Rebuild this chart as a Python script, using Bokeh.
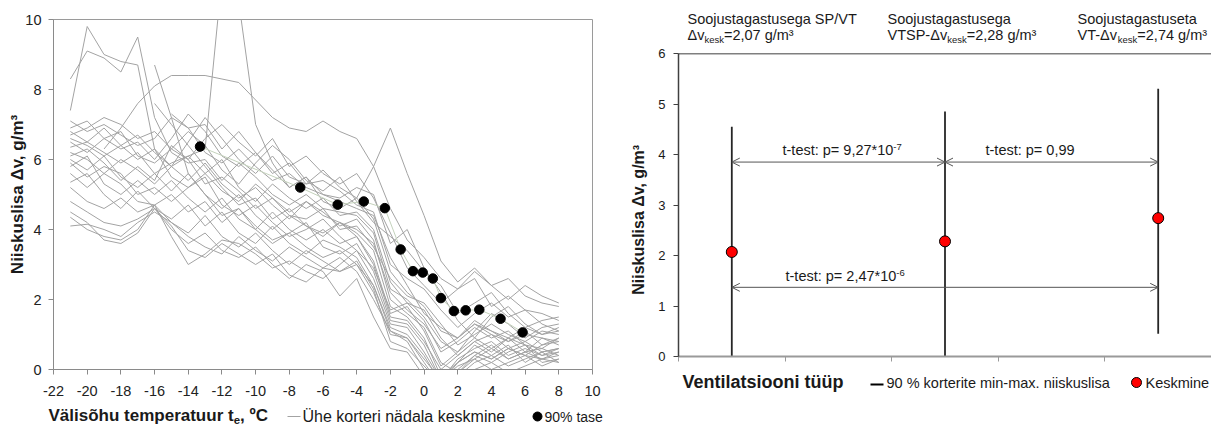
import math
import numpy as np
from bokeh.plotting import figure
from bokeh.layouts import row, column
from bokeh.models import Label, Arrow, OpenHead, Span, FixedTicker, Range1d
from bokeh.embed import file_html
from bokeh.resources import INLINE

FONT = "Liberation Sans"

# ---------------- data: left chart ----------------
temps = [-21, -20, -19, -18, -17, -16, -15, -14, -13, -12, -11, -10, -9, -8, -7,
         -6, -5, -4, -3, -2, -1, 0, 1, 2, 3, 4, 5, 6, 7, 8]

k01 = [7.4, 9.8, 9.0, 8.8, 8.7, 6.3, 5.5, 5.2, 5.6, 5.1, 4.8, 5.3, 4.9, 4.5, 4.8, 4.4, 4.2, 4.0, 3.6, 2.2, 1.7, 1.3, 0.6, 0.9, 1.4, 1.1, 0.9, 1.2, 1.0, 1.1]
k02 = [8.3, 9.1, 8.9, 8.5, 9.5, 7.2, 6.2, 5.9, 6.0, 5.4, 5.9, 5.5, 5.0, 4.7, 5.0, 4.6, 4.5, 4.4, 3.9, 2.3, 2.0, 1.5, 0.8, 0.5, 1.1, 1.6, 1.3, 0.9, 1.2, 1.3]
k03 = [None, None, 6.3, 6.9, 7.6, 8.1, 8.4, 8.4, 8.4, 8.3, 8.2, 7.7, 7.2, 6.9, 6.8, 7.1, 6.8, 6.6, 5.8, 4.6, 3.7, 3.2, 2.6, 2.3, 2.8, 2.4, 2.0, 2.4, 2.1, 1.9]
k04 = [6.6, 6.4, 6.1, 6.4, 6.7, 6.2, 5.8, 6.1, 6.3, 11.2, 10.5, 7.0, 5.9, 5.2, 5.5, 4.8, 4.6, 4.9, 4.3, 2.8, 2.2, 1.8, 1.1, 0.9, 1.3, 1.0, 0.8, 1.1, 0.7, 0.9]
k05 = [None, None, None, None, None, 8.7, 7.2, 5.6, 5.0, 4.4, 4.6, 4.0, 3.6, 3.9, 3.5, 3.2, 3.4, 3.0, 2.4, 1.1, 0.9, 0.3, -0.3, 0.2, 0.5, 0.3, 0.6, 0.4, 0.3, 0.5]
k06 = [None, None, None, None, None, 7.6, 7.0, 6.4, 5.8, 5.2, 4.7, 4.9, 4.3, 4.6, 4.1, 3.9, 4.2, 3.8, 3.0, 1.5, 1.4, 0.8, 0.0, 0.4, 0.8, 0.5, 0.9, 0.7, 0.4, 0.6]
k07 = [7.1, 6.8, 7.0, 6.7, 6.4, 6.6, 7.2, 6.9, 6.2, 5.9, 6.3, 5.8, 5.4, 5.6, 5.2, 5.0, 4.8, 4.6, 4.4, 3.2, 2.4, 1.6, 1.2, 0.9, 1.3, 1.1, 0.8, 1.0, 0.9, 0.8]
k08 = [6.9, 7.1, 6.6, 6.3, 6.5, 6.0, 6.6, 7.3, 6.8, 6.1, 5.8, 6.2, 5.7, 5.2, 5.5, 5.0, 4.9, 5.2, 5.0, 3.6, 4.0, 2.9, 2.2, 1.4, 0.9, 1.5, 1.8, 1.3, 1.0, 1.2]
k09 = [6.8, 6.5, 6.9, 6.4, 6.0, 6.3, 5.8, 6.5, 7.2, 6.6, 6.0, 5.6, 6.1, 5.5, 5.3, 5.7, 5.2, 4.9, 5.8, 6.9, 5.6, 4.4, 3.1, 2.5, 2.9, 2.4, 2.6, 2.1, 1.9, 1.8]
k10 = [6.5, 6.2, 6.6, 6.8, 6.1, 5.9, 6.3, 6.8, 6.4, 5.7, 5.3, 5.9, 6.4, 6.0, 5.4, 5.1, 5.5, 4.8, 4.2, 3.8, 3.4, 2.8, 2.4, 1.6, 1.9, 2.2, 1.6, 1.2, 1.4, 1.5]
k11 = [6.35, 6.5, 6.2, 5.9, 6.2, 5.6, 5.9, 6.1, 5.6, 6.0, 5.2, 4.8, 5.3, 4.9, 4.6, 4.9, 4.4, 4.5, 4.0, 2.5, 1.9, 1.7, 0.9, 0.4, 0.8, 1.0, 0.6, 0.4, 0.7, 0.8]
k12 = [6.2, 6.0, 5.6, 6.0, 5.7, 5.3, 5.8, 5.4, 5.9, 5.3, 4.9, 5.2, 4.7, 4.3, 4.8, 4.5, 4.1, 4.3, 3.7, 2.0, 1.6, 1.2, 0.2, -0.1, 0.4, 0.7, 0.3, 0.5, 0.6, 0.4]
k13 = [6.0, 5.7, 6.1, 5.5, 5.2, 5.6, 5.1, 5.6, 5.0, 4.6, 5.0, 4.4, 4.0, 4.4, 4.1, 3.8, 4.2, 3.9, 3.4, 1.8, 1.5, 0.9, -0.2, 0.2, 0.5, 0.3, 0.6, 0.8, 0.5, 0.6]
k14 = [5.8, 6.1, 5.3, 5.0, 5.4, 5.0, 5.4, 4.9, 4.5, 4.9, 4.3, 4.0, 4.5, 4.0, 3.7, 4.0, 3.6, 3.8, 3.1, 1.6, 1.8, 1.1, 0.1, 0.5, 0.9, 0.6, 0.3, 0.5, 0.9, 0.7]
k15 = [5.6, 5.2, 5.6, 5.3, 4.8, 4.7, 5.0, 4.5, 4.8, 4.2, 4.6, 4.1, 3.7, 3.9, 4.2, 3.5, 3.3, 3.6, 2.8, 1.4, 1.3, 0.7, -0.3, 0.1, 0.3, 0.6, 0.9, 0.5, 0.3, 0.4]
k16 = [5.35, 5.6, 5.0, 4.6, 5.1, 4.6, 4.3, 4.7, 4.1, 4.5, 3.9, 3.6, 4.1, 3.6, 3.3, 3.7, 3.5, 3.2, 2.4, 1.2, 1.0, 0.4, -0.4, 0.0, 0.4, 0.2, 0.5, 0.7, 0.2, 0.3]
k17 = [5.2, 4.8, 4.6, 4.9, 4.5, 4.7, 4.2, 3.9, 4.4, 3.8, 3.5, 3.9, 3.4, 3.0, 3.4, 3.1, 2.8, 3.0, 2.2, 1.0, 0.9, 0.2, -0.5, -0.2, 0.2, 0.4, 0.1, 0.3, 0.5, 0.2]
k18 = [4.8, 4.5, 4.2, 4.1, 4.3, 4.6, 4.0, 3.6, 3.9, 3.4, 3.2, 3.5, 3.0, 2.6, 3.0, 2.8, 2.1, 2.6, 1.5, 0.6, 0.5, -0.2, -0.8, -0.4, 0.0, 0.2, -0.1, 0.1, 0.3, 0.2]
k19 = [4.5, 4.2, 3.7, 3.6, 3.9, 4.6, 4.1, 3.4, 3.2, 3.6, 3.3, 3.0, 3.3, 2.7, 2.5, 2.9, 3.2, 2.8, 2.0, 1.1, 0.8, 0.0, -0.6, -0.1, 0.3, 0.0, 0.2, 0.4, 0.1, 0.3]
k20 = [4.35, 4.0, 3.8, 3.7, 4.0, 4.7, 3.8, 3.0, 3.3, 3.7, 3.6, 3.3, 2.9, 3.1, 2.8, 2.6, 3.0, 3.4, 2.6, 1.3, 1.2, 0.5, -0.3, 0.3, 0.6, 0.8, 0.4, 0.6, 0.4, 0.5]
k21 = [4.1, 4.15, 4.0, 3.8, 4.2, 4.5, 4.2, 3.8, 3.5, 3.3, 3.8, 3.4, 3.1, 3.5, 3.2, 2.9, 2.8, 3.1, 2.3, 0.8, 0.6, 0.1, -0.4, 0.2, 0.7, 0.4, 0.7, 0.2, 0.5, 0.6]
k22 = [6.1, 6.3, 5.9, 5.4, 5.8, 5.4, 6.4, 6.0, 5.3, 5.5, 5.1, 4.6, 4.9, 4.4, 4.3, 4.6, 4.0, 4.1, 3.5, 2.6, 2.1, 1.9, 1.3, 0.7, 1.0, 1.3, 1.0, 0.8, 1.1, 1.0]
k23 = [5.9, 5.5, 5.8, 5.6, 5.0, 5.2, 4.8, 5.2, 5.5, 4.7, 4.4, 4.7, 4.2, 3.8, 4.0, 4.3, 3.8, 3.4, 2.9, 1.7, 1.9, 1.4, 0.5, 0.8, 1.2, 0.9, 1.1, 0.7, 0.6, 0.9]
k24 = [None, None, None, None, None, None, 7.3, 6.9, 7.0, 6.3, 6.8, 6.2, 5.6, 5.9, 5.3, 5.4, 5.1, 4.7, 4.5, 3.0, 2.6, 2.3, 1.7, 1.2, 1.6, 1.9, 1.5, 1.7, 1.3, 1.1]
k25 = [6.7, 6.9, 7.2, 7.0, 6.6, 6.8, 6.3, 6.0, 6.6, 7.0, 6.5, 6.1, 6.6, 5.8, 6.1, 5.6, 5.3, 5.6, 4.9, 3.9, 2.9, 2.4, 1.9, 2.3, 2.6, 1.8, 2.1, 1.7, 1.6, 1.4]
curves = [k01, k02, k03, k04, k05, k06, k07, k08, k09, k10, k11, k12, k13,
          k14, k15, k16, k17, k18, k19, k20, k21, k22, k23, k24, k25]

t90 = [-13.3, -7.35, -5.13, -3.58, -2.33, -1.39, -0.66, -0.08, 0.52, 1.0, 1.77, 2.47, 3.28, 4.54, 5.85]
v90 = [6.37, 5.2, 4.71, 4.8, 4.61, 3.43, 2.81, 2.77, 2.6, 2.04, 1.67, 1.69, 1.71, 1.45, 1.06]

left_xticks = [-22, -20, -18, -16, -14, -12, -10, -8, -6, -4, -2, 0, 2, 4, 6, 8, 10]
left_yticks = [0, 2, 4, 6, 8, 10]

# ---------------- data: right chart ----------------
vent_groups = ["Soojustagastusega SP/VT", "Soojustagastusega", "Soojustagastuseta"]
vent_prefix = ["", "VTSP-", "VT-"]
vent_pos = [1, 3, 5]
range_min = [0.0, 0.0, 0.45]
range_max = [4.55, 4.85, 5.3]
means = [2.07, 2.28, 2.74]
right_yticks = [0, 1, 2, 3, 4, 5, 6]
right_xticks = [0.5, 1.5, 2.5, 3.5, 4.5, 5.5]
arrow_from = [1, 3, 1]
arrow_to = [3, 5, 5]
arrow_y = [3.85, 3.85, 1.37]
ttest_main = ["t-test: p= 9,27*10", "t-test: p= 0,99", "t-test: p= 2,47*10"]
ttest_exp = ["-7", "", "-6"]

# ---------------- text width helper (Arial metrics) ----------------
W_REG, W_BOLD = {}, {}
for chars, w in [("ijl", 222), (" ,./:;Ift!", 278), ("-r³", 333), ("º", 365), ("*", 389),
                 ("ckszvxyJ", 500), ("0123456789abdeghnopquäõüL", 556), ("=", 584),
                 ("FTZ", 611), ("ABEKPSVXY", 667), ("Δ", 668), ("CDHNRUÜw", 722),
                 ("GOQ", 778), ("mM", 833), ("%", 889), ("W", 944), ("—", 1000)]:
    for ch in chars:
        W_REG[ch] = w
for chars, w in [(" ijl,./:I", 278), ("-tf", 333), ("º", 365), ("r", 389),
                 ("0123456789aäceksvxyz", 556), ("bdghnopquõüL", 611), ("V", 667),
                 ("C", 722), ("m", 889)]:
    for ch in chars:
        W_BOLD[ch] = w


def tw(s, size, bold=False):
    tab = W_BOLD if bold else W_REG
    return sum(tab.get(ch, 556) for ch in s) * size / 1000.0


def make_conv(ox, oy, h):
    # page pixel -> panel data (pixel) coordinates
    return lambda px, py: (px - ox, h - (py - oy))


def conv_r(px, py):
    # page pixel -> right chart data coordinates (frame 678..1211, 53..356)
    return 0.5 + (px - 678) / 533.0 * 5, (356 - py) / 303.0 * 6


def lab(fig, conv, px, py, text, size, bold=False, color="#1a1a1a", align="left",
        baseline="alphabetic", angle=0.0):
    if baseline == "alphabetic":
        py = py - 0.31 * size  # renderer places alphabetic text slightly low
    x, y = conv(px, py)
    fig.add_layout(Label(x=x, y=y, text=text, text_font=FONT, text_font_size=f"{size}px",
                         text_font_style="bold" if bold else "normal", text_color=color,
                         text_align=align, text_baseline=baseline, angle=angle))


def rich(fig, conv, px, py, parts, color="#1a1a1a"):
    x = px
    for text, size, dy, bold in parts:
        if text:
            lab(fig, conv, x, py + dy, text, size, bold, color)
            x += tw(text, size, bold)


def panel(w, h):
    f = figure(width=w, height=h, x_range=Range1d(0, w), y_range=Range1d(0, h),
               x_axis_type=None, y_axis_type=None, output_backend="svg",
               toolbar_location=None, min_border=0)
    f.outline_line_color = None
    f.border_fill_color = "white"
    return f


# ---------------- left figure ----------------
p1 = figure(width=605, height=405, x_range=Range1d(-22, 10), y_range=Range1d(0, 10),
            output_backend="svg", toolbar_location=None,
            min_border_left=53, min_border_right=13, min_border_top=19, min_border_bottom=36)
p1.grid.visible = False
p1.outline_line_color = "#9a9a9a"
p1.border_fill_color = "white"
p1.xaxis.ticker = FixedTicker(ticks=left_xticks)
p1.xaxis.major_label_overrides = {t: str(t) for t in left_xticks}
p1.yaxis.ticker = FixedTicker(ticks=left_yticks)
for ax in (p1.xaxis, p1.yaxis):
    ax.axis_line_color = "#8a8a8a"
    ax.major_tick_line_color = "#8a8a8a"
    ax.major_tick_out = 5
    ax.major_tick_in = 0
    ax.minor_tick_line_color = None
    ax.major_label_text_font = FONT
    ax.major_label_text_font_size = "14.5px"
    ax.major_label_text_color = "#222222"
p1.xaxis.major_label_standoff = 11
p1.yaxis.major_label_standoff = 7
p1.yaxis.axis_label = "Niiskuslisa Δv, g/m³"
p1.yaxis.axis_label_text_font = FONT
p1.yaxis.axis_label_text_font_size = "17px"
p1.yaxis.axis_label_text_font_style = "bold"
p1.yaxis.axis_label_text_color = "#1a1a1a"
p1.yaxis.axis_label_standoff = -5

for c in curves:
    p1.line(temps, np.array(c, dtype=float), line_color="#a3a3a3", line_width=1,
            line_join="round")
p1.line(t90, v90, line_color="#c4d2bc", line_width=1)
p1.scatter(t90, v90, size=9.5, fill_color="black", line_color="black")

# bottom text row of left chart (page y 405..425)
txt_l = panel(605, 20)
cl = make_conv(0, 405, 20)
rich(txt_l, cl, 48, 420.5, [("Välisõhu temperatuur t", 17, 0, True), ("e", 11.5, 2.5, True),
                            (", ºC", 17, 0, True)])
x0, y0 = cl(287, 416)
x1, _ = cl(300, 416)
txt_l.segment(x0=[x0], y0=[y0], x1=[x1], y1=[y0], line_color="#a3a3a3", line_width=1)
lab(txt_l, cl, 302, 420.5, "Ühe korteri nädala keskmine", 16)
dx, dy = cl(537, 416)
txt_l.scatter([dx], [dy], size=9, fill_color="black", line_color="black")
lab(txt_l, cl, 544, 420.5, "90% tase", 14)

# ---------------- right side ----------------
# header panel (page x 605..1211, y 0..47)
head_r = panel(606, 47)
ch = make_conv(605, 0, 47)
head_x = [687, 887, 1077]
for hx, g, pre, m in zip(head_x, vent_groups, vent_prefix, means):
    lab(head_r, ch, hx, 23, g, 14.5)
    val = f"{m:.2f}".replace(".", ",")
    rich(head_r, ch, hx, 39, [(pre + "Δv", 14.5, 0, False), ("kesk", 9.5, 3, False),
                              ("=" + val + " g/m³", 14.5, 0, False)])

# y-title panel (page x 605..650, y 47..364)
ytl_r = panel(45, 317)
cy = make_conv(605, 47, 317)
lab(ytl_r, cy, 638, 221, "Niiskuslisa Δv, g/m³", 16, bold=True, align="center",
    baseline="middle", angle=math.pi / 2)

# main right plot (page x 650..1211, y 47..364)
p2 = figure(width=561, height=317, x_range=Range1d(0.5, 5.5), y_range=Range1d(0, 6),
            output_backend="svg", toolbar_location=None,
            min_border_left=28, min_border_right=0, min_border_top=6, min_border_bottom=8)
p2.grid.visible = False
p2.outline_line_color = None
p2.border_fill_color = "white"
p2.xaxis.ticker = FixedTicker(ticks=right_xticks)
p2.xaxis.major_label_overrides = {t: "" for t in right_xticks}
p2.xaxis.major_label_text_font_size = "0px"
p2.xaxis.major_label_standoff = 0
p2.yaxis.ticker = FixedTicker(ticks=right_yticks)
p2.yaxis.axis_line_color = "#404040"
p2.yaxis.axis_line_width = 1.5
p2.yaxis.major_tick_line_color = "#404040"
p2.yaxis.major_label_text_font = FONT
p2.yaxis.major_label_text_font_size = "13px"
p2.yaxis.major_label_text_color = "#1a1a1a"
p2.yaxis.major_label_standoff = 8
p2.xaxis.axis_line_color = "#9a9a9a"
p2.xaxis.axis_line_width = 2
p2.xaxis.major_tick_line_color = "#9a9a9a"
for ax in (p2.xaxis, p2.yaxis):
    ax.major_tick_out = 5
    ax.major_tick_in = 0
    ax.minor_tick_line_color = None

p2.add_layout(Span(location=6, dimension="width", line_color="black", line_width=1.5))
p2.segment(x0=vent_pos, y0=range_min, x1=vent_pos, y1=range_max,
           line_color="#262626", line_width=1.8)
for a, b, y in zip(arrow_from, arrow_to, arrow_y):
    p2.add_layout(Arrow(start=OpenHead(size=8, line_color="#555555", line_width=1),
                        end=OpenHead(size=8, line_color="#555555", line_width=1),
                        x_start=a, y_start=y, x_end=b, y_end=y,
                        line_color="#555555", line_width=1))
p2.scatter(vent_pos, means, size=11, fill_color="#ff0000", line_color="black", line_width=1)

tt_pos = [(782, 154), (985, 154), (785, 280)]
for (px, py), main, ex in zip(tt_pos, ttest_main, ttest_exp):
    rich(p2, conv_r, px, py, [(main, 14.5, 0, False), (ex, 9.5, -5, False)])

# bottom text row of right chart (page x 605..1211, y 364..425)
txt_r = panel(606, 61)
cb = make_conv(605, 364, 61)
lab(txt_r, cb, 682, 387, "Ventilatsiooni tüüp", 18, bold=True)
x0, y0 = cb(870, 384)
x1, _ = cb(883, 384)
txt_r.segment(x0=[x0], y0=[y0], x1=[x1], y1=[y0], line_color="black", line_width=2)
lab(txt_r, cb, 886, 387, "90 % korterite min-max. niiskuslisa", 14.5)
dx, dy = cb(1136, 382)
txt_r.scatter([dx], [dy], size=10, fill_color="#ff0000", line_color="black", line_width=1)
lab(txt_r, cb, 1145, 387, "Keskmine", 14.5)

# wrap plots in rows so the column does not align their frames
left_col = column(row(p1, spacing=0), row(txt_l, spacing=0), spacing=0)
right_col = column(row(head_r, spacing=0), row(ytl_r, p2, spacing=0),
                   row(txt_r, spacing=0), spacing=0)
layout = row(left_col, right_col, spacing=0)
open("out.html", "w").write(file_html(layout, INLINE))
